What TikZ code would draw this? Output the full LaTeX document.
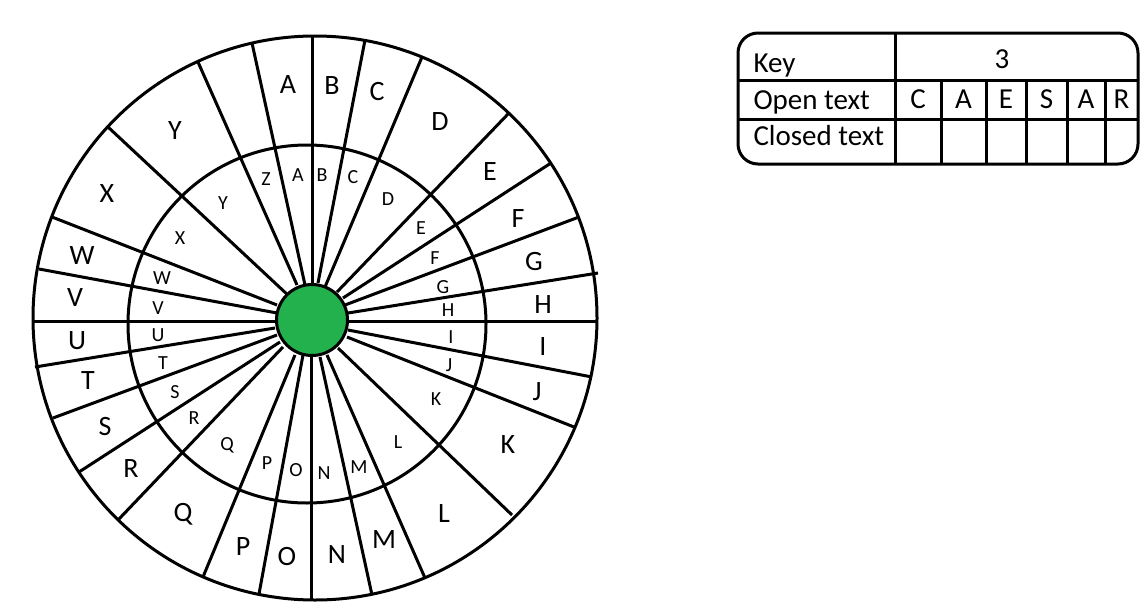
\documentclass[tikz,border=0pt]{standalone}
\usepackage{fontspec}
\setmainfont{Carlito}
\usetikzlibrary{positioning}
\tikzset{>=latex}
\definecolor{hubgreen}{RGB}{34,177,76}

\begin{document}
\begin{tikzpicture}[x=1pt,y=-1pt,line width=3pt,
	outer/.style={font=\fontsize{28}{30}\selectfont,inner sep=0pt},
	inner/.style={font=\fontsize{20}{22}\selectfont,inner sep=0pt},
	rowlabel/.style={font=\fontsize{29}{31}\selectfont,anchor=base west,inner sep=0pt},
	cell/.style={font=\fontsize{29}{31}\selectfont,inner sep=0pt},
	hub/.style={circle,draw,fill=hubgreen,minimum size=71pt,inner sep=0pt}]
\useasboundingbox (0,0) rectangle (1146,613);

% spokes of the wheel
\foreach \ax/\ay/\bx/\by in {312/283/312/35, 305/285/252/43, 297/285/198/62,
		290/297/108/127, 277/305/52/217, 277/313/39/269, 275/321/33/321,
		275/328/35/367, 277/335/53/418, 280/342/79/472, 283/347/119/519,
		295/355/203/577, 303/355/259/594, 311/357/311/600, 320/357/372/595,
		327/355/425/578, 338/348/512/515, 347/337/574/427, 348/330/592/377,
		348/321/598/321, 348/313/598/273, 345/305/579/217, 343/298/551/163,
		337/292/509/113, 325/287/422/57, 318/283/365/40}
	\draw (\ax,\ay) -- (\bx,\by);

% rings
\draw (315,318) circle[radius=282];
\draw (307,324) circle[radius=179];
\node[hub] (hub) at (312,320) {};

% outer alphabet
\foreach \l/\x/\y in {A/288/85, B/332/86, C/377/92, D/440/122, E/490/172,
		F/518/219, G/534/262, H/543/305, I/543/347, J/537/392, K/508/445,
		L/444/514, M/384/540, N/337/555, O/287/557, P/243/547, Q/183/514,
		R/131/469, S/105/427, T/88/381, U/77/341, V/75/298, W/82/256,
		X/107/194, Y/175/131}
	\node[outer] (out-\l) at (\x,\y) {\l};

% inner alphabet
\foreach \l/\x/\y in {Z/266/179, A/298/175, B/322/175, C/353/177, D/388/199,
		E/421/228, F/435/258, G/443/287, H/448/310, I/451/337, J/449/365,
		K/436/399, L/398/442, M/359/467, N/324/473, O/296/470, P/267/463,
		Q/227/445, R/194/418, S/175/392, T/163/363, U/158/335, V/158/308,
		W/162/278, X/180/238, Y/223/203}
	\node[inner] (in-\l) at (\x,\y) {\l};

% table
\draw[rounded corners=20pt] (738,33) rectangle (1138,164);
\draw (895,33) -- (895,164);
\draw (738,80) -- (1138,80);
\draw (738,119) -- (1138,119);
\foreach \x in {941,986,1026,1067,1105}
	\draw (\x,80) -- (\x,164);

\node[rowlabel] (key) at (752,72) {Key};
\node[rowlabel] (open) at (752,109) {Open text};
\node[rowlabel] (closed) at (752,145) {Closed text};
\node[cell] (shift) at (1002,59) {3};
\foreach \l/\x [count=\i] in {C/918, A/963.5, E/1006, S/1046.5, A/1086, R/1121.5}
	\node[cell] (open-\i) at (\x,99) {\l};
\end{tikzpicture}
\end{document}
